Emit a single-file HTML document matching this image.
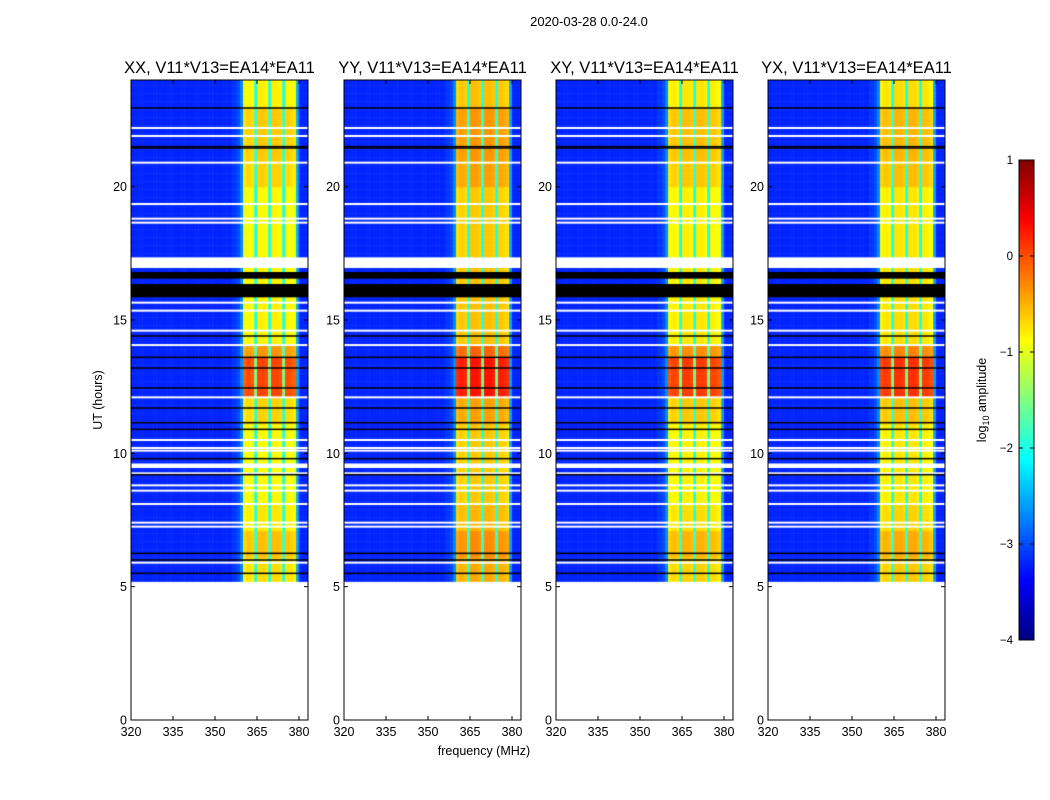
<!DOCTYPE html>
<html><head><meta charset="utf-8"><style>
body{margin:0;background:#fff;width:1050px;height:800px;overflow:hidden;font-family:"Liberation Sans",sans-serif}
#wrap{position:relative;width:1050px;height:800px}
canvas{position:absolute}
svg{position:absolute;left:0;top:0}
</style></head><body><div id="wrap">
<canvas id="cb" width="15" height="480" style="left:1019px;top:160px"></canvas>
<svg id="s" width="1050" height="800"></svg>
</div>
<script>
// ---- data ----
const panelTitles = ["XX, V11*V13=EA14*EA11","YY, V11*V13=EA14*EA11","XY, V11*V13=EA14*EA11","YX, V11*V13=EA14*EA11"];
const panelOffset = [0, 0.25, 0.05, 0.1];
const xTicks = [320,335,350,365,380];
const yTicks = [0,5,10,15,20];
const cbTicks = [1,0,-1,-2,-3,-4];
const freqBins = [];      // 1 MHz bins 320..382
const freqLevel = [ // log10 amplitude per bin
-3.2,-3.2,-3.2,-3.2,-3.2,-3.2,-3.2,-3.2,-3.2,-3.2, -3.2,-3.2,-3.2,-3.2,-3.2,-3.2,-3.2,-3.2,-3.2,-3.2,
-3.2,-3.2,-3.2,-3.2,-3.2,-3.2,-3.2,-3.2,-3.2,-3.2, -3.2,-3.2,-3.2,-3.2,-3.2,-3.2,-3.1,-3.1,-3.0,-2.7,
-1.0,-0.9,-0.9,-0.95,-2.0,-0.85,-0.85,-0.85,-0.9,-2.0, -0.85,-0.85,-0.85,-0.9,-2.0,-0.9,-0.9,-0.95,-1.0,-2.6,
-3.2,-3.2,-3.2];
for(let i=0;i<freqLevel.length;i++) freqBins.push(320+i);
const hourStart = [5.2,6.0,7.0,8.0,11.0,12.0,13.5,14.0,17.0,20.0,21.0,23.0];
const hourEnd   = [6.0,7.0,8.0,11.0,12.0,13.5,14.0,17.0,20.0,21.0,23.0,24.0];
const bandBoost = [0.15,0.3,0.1,0.0,0.2,0.9,0.5,0.05,0.0,0.2,0.25,0.05];
const whiteRows = [22.2,21.9,20.9,19.35,18.8,18.65,15.65,15.35,14.6,14.06,12.1,10.5,10.2,10.1,9.25,8.8,8.6,8.1,7.4,7.25,5.9];
const blackRows = [22.95,21.5,21.45,14.4,13.6,13.2,12.45,11.7,11.15,10.9,9.8,9.2,6.25,6.0,5.5];
const whiteBlocks = [[9.45,9.62],[16.95,17.35]];
const blackBlocks = [[16.55,16.8],[15.85,16.35]];

// ---- helpers ----
function jet(v){ let t=(v+4)/5; t=Math.max(0,Math.min(1,t));
 const c=x=>Math.max(0,Math.min(1,x));
 const r=c(Math.min(4*t-1.5,-4*t+4.5)), g=c(Math.min(4*t-0.5,-4*t+3.5)), b=c(Math.min(4*t+0.5,-4*t+2.5));
 return `rgb(${Math.round(r*255)},${Math.round(g*255)},${Math.round(b*255)})`;}
const NS="http://www.w3.org/2000/svg";
const svg=document.getElementById('s');
function el(tag,attrs,parent){const e=document.createElementNS(NS,tag);for(const k in attrs)e.setAttribute(k,attrs[k]);(parent||svg).appendChild(e);return e;}
const panelLeft=[131,344,556,768], PW=177, PT=80, PB=720;
const fMin=320, fMax=320+177/2.8;
const yOf=h=>PB-(h/24)*(PB-PT);
function boostAt(h){for(let i=0;i<hourStart.length;i++) if(h>=hourStart[i]&&h<hourEnd[i]) return bandBoost[i]; return 0;}

const wrap=document.getElementById('wrap');
panelLeft.forEach((L,p)=>{
 const xOf=f=>L+(f-fMin)/(fMax-fMin)*PW;
 const cv=document.createElement('canvas');
 
 
 cv.width=PW;cv.height=PB-PT;cv.style.left=L+'px';cv.style.top=PT+'px';
 wrap.insertBefore(cv,svg);
 const ctx=cv.getContext('2d');
 const dh=0.1;
 for(let h=5.2;h<24;h+=dh){
  const b=boostAt(h);
  for(let i=0;i<freqBins.length;i++){
   let v=freqLevel[i]; if(v>-1.5) v+=b+panelOffset[p]; else if(v>-2.5) v+=b*0.5;
   ctx.fillStyle=jet(v);
   const x0=xOf(freqBins[i])-L, x1=xOf(freqBins[i]+1)-L;
   ctx.fillRect(x0,yOf(h+dh)-PT,x1-x0+0.5,yOf(h)-yOf(h+dh)+0.5);
  }
 }
 ctx.fillStyle='#fff';
 whiteRows.forEach(h=>ctx.fillRect(0,yOf(h)-PT-1,PW,2));
 whiteBlocks.forEach(([a,b])=>ctx.fillRect(0,yOf(b)-PT,PW,yOf(a)-yOf(b)));
 ctx.fillStyle='#000';
 blackRows.forEach(h=>ctx.fillRect(0,yOf(h)-PT-0.75,PW,1.5));
 blackBlocks.forEach(([a,b])=>ctx.fillRect(0,yOf(b)-PT,PW,yOf(a)-yOf(b)));
 const fr=el('rect',{x:L,y:PT,width:PW,height:PB-PT,fill:'none',stroke:'#000','stroke-width':1});
 
 const t=el('text',{x:L+PW/2,y:73,'text-anchor':'middle','font-size':16.5});
 t.textContent=panelTitles[p];
 
 xTicks.forEach(f=>{const x=xOf(f);
  el('line',{x1:x,x2:x,y1:PB,y2:PB-4,stroke:'#000'});el('line',{x1:x,x2:x,y1:PT,y2:PT+4,stroke:'#000'});
  const tx=el('text',{x:x,y:PB+16,'text-anchor':'middle','font-size':12.5});tx.textContent=f;
  });
 yTicks.forEach(h=>{const y=yOf(h);
  el('line',{x1:L,x2:L+4,y1:y,y2:y,stroke:'#000'});el('line',{x1:L+PW,x2:L+PW-4,y1:y,y2:y,stroke:'#000'});
  const ty=el('text',{x:L-4,y:y+4.5,'text-anchor':'end','font-size':12.5});ty.textContent=h;
  });
});
let e;
e=el('text',{x:589,y:26,'text-anchor':'middle','font-size':13});e.textContent='2020-03-28 0.0-24.0';

e=el('text',{x:484,y:755,'text-anchor':'middle','font-size':12.5});e.textContent='frequency (MHz)';

e=el('text',{x:102,y:400,'text-anchor':'middle','font-size':12.5,transform:'rotate(-90 102 400)'});e.textContent='UT (hours)';

const cb=document.getElementById('cb').getContext('2d');
for(let y=0;y<480;y++){cb.fillStyle=jet(1-5*(y+0.5)/480);cb.fillRect(0,y,15,1);}
el('rect',{x:1019,y:160,width:15,height:480,fill:'none',stroke:'#000'});
cbTicks.forEach(v=>{const y=160+(1-v)/5*480;
 el('line',{x1:1019,x2:1023,y1:y,y2:y,stroke:'#000'});el('line',{x1:1034,x2:1030,y1:y,y2:y,stroke:'#000'});
 const t=el('text',{x:1013,y:y+4,'text-anchor':'end','font-size':11.5});t.textContent=v<0?'\u2212'+(-v):v;
 });
e=el('text',{x:986,y:400,'text-anchor':'middle','font-size':12.5,transform:'rotate(-90 986 400)'});
e.innerHTML='log<tspan font-size="9" dy="3">10</tspan><tspan dy="-3"> amplitude</tspan>';

</script></body></html>
